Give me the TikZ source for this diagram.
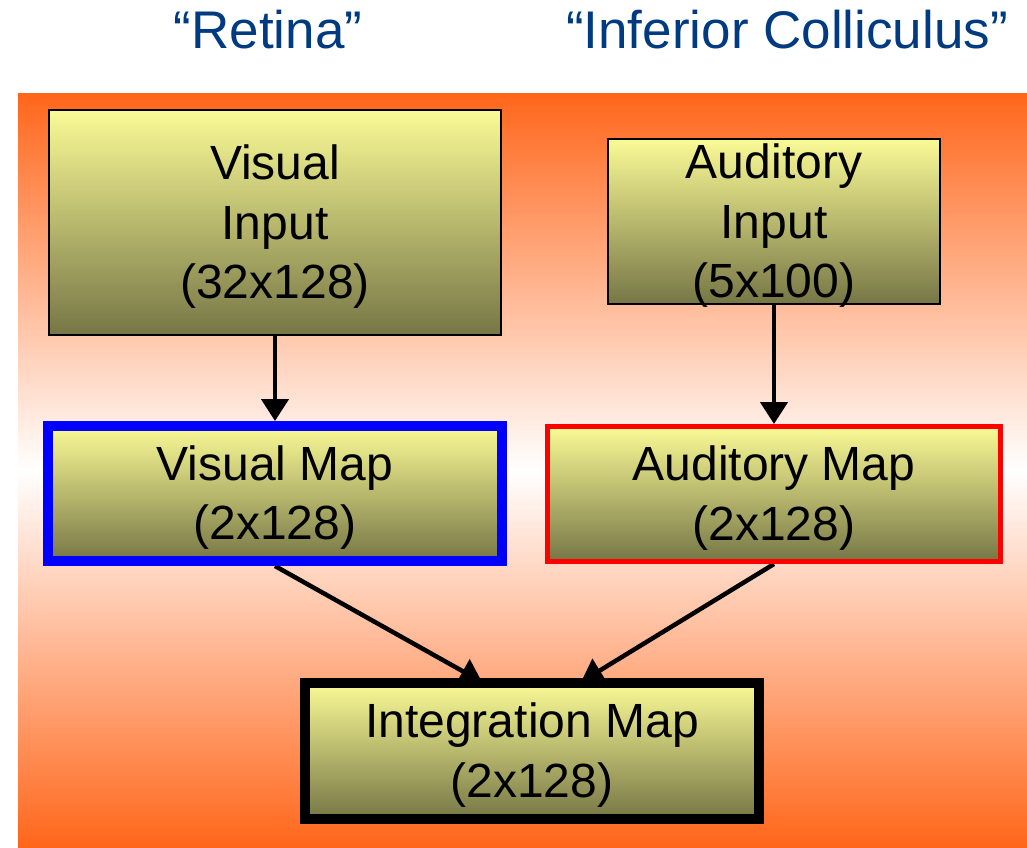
\documentclass[tikz,border=0pt]{standalone}
\usepackage{fontspec}
\setmainfont{Liberation Sans}
\usetikzlibrary{arrows.meta}

\definecolor{panelorange}{RGB}{255,102,26}
\definecolor{titleblue}{RGB}{0,58,128}
\definecolor{boxtop}{RGB}{250,250,150}
\definecolor{boxbottom}{RGB}{118,118,70}
\definecolor{mapblue}{RGB}{0,0,255}
\definecolor{mapred}{RGB}{255,0,0}

% orange -> white -> orange; a path shading uses the 25bp..75bp band
\pgfdeclareverticalshading{panelfade}{100bp}{%
  color(0bp)=(panelorange); color(25bp)=(panelorange); color(50bp)=(white);
  color(75bp)=(panelorange); color(100bp)=(panelorange)}

\pgfdeclarelayer{panel}
\pgfdeclarelayer{links}
\pgfsetlayers{panel,links,main}

% centred lines of a stage label, taking no room so the box keeps its size;
% the tabular sits on the math axis, lowered to just below the box centre
\newcommand\stagelines[1]{%
  \raisebox{-11pt}[0pt][0pt]{\begin{tabular}{@{}c@{}}#1\end{tabular}}}

\tikzset{
  stage/.style={draw=black, line width=2pt, top color=boxtop, bottom color=boxbottom,
    inner sep=0pt, text=black,
    font=\fontsize{48}{59.5}\selectfont},
  heading/.style={anchor=base, text=titleblue, font=\fontsize{53}{63}\selectfont},
  link/.style={draw=black, line width=4.5pt, -{Triangle[length=22pt,width=27pt]}}
}

\begin{document}
\begin{tikzpicture}[x=1pt, y=-1pt]
  \useasboundingbox (0,0) rectangle (1027,847);

  % headings
  \node[heading] (hret) at (268,48) {“Retina”};
  \node[heading] (hic) at (787,48) {“Inferior Colliculus”};

  % processing stages
  \node[stage, minimum width=452pt, minimum height=225pt] (vin) at (275,222.5)
    {\stagelines{Visual\\Input\\(32x128)}};
  \node[stage, minimum width=332pt, minimum height=165pt] (ain) at (774,221.5)
    {\stagelines{Auditory\\Input\\(5x100)}};
  \node[stage, draw=mapblue, line width=10pt, minimum width=454pt, minimum height=135pt]
    (vmap) at (275,493.5) {\stagelines{Visual Map\\(2x128)}};
  \node[stage, draw=mapred, line width=5pt, minimum width=453pt, minimum height=135pt]
    (amap) at (774,494) {\stagelines{Auditory Map\\(2x128)}};
  \node[stage, line width=10pt, minimum width=454pt, minimum height=136pt]
    (int) at (532,751) {\stagelines{Integration Map\\(2x128)}};

  % connections
  \begin{pgfonlayer}{links}
    \draw[link] (vin.south) -- (vmap.north);
    \draw[link] (ain.south) -- (amap.north);
    \draw[link] (vmap.south) -- ([xshift=-50pt,yshift=-4pt]int.north);
    \draw[link] (amap.south) -- ([xshift=49pt,yshift=-4pt]int.north);
  \end{pgfonlayer}

  % background panel
  \begin{pgfonlayer}{panel}
    \shade[shading=panelfade] (18,93) rectangle (1027,847);
  \end{pgfonlayer}
\end{tikzpicture}
\end{document}
